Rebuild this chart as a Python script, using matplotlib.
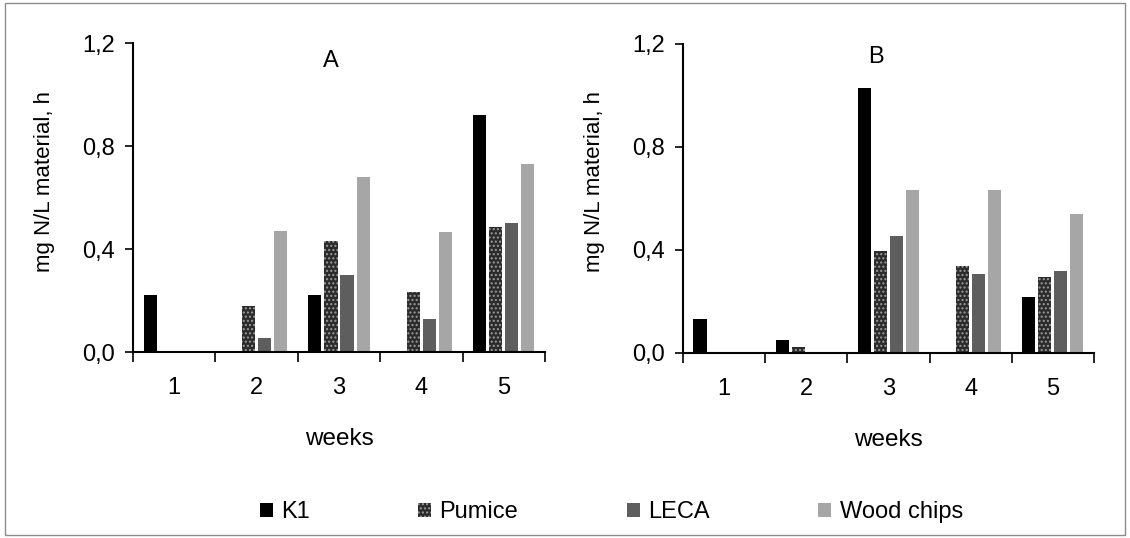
import numpy as np
import matplotlib.pyplot as plt
from matplotlib.patches import Patch, Rectangle

plt.rcParams['font.family'] = ['Liberation Sans', 'DejaVu Sans']

weeks = ['1', '2', '3', '4', '5']
materials = ['K1', 'Pumice', 'LECA', 'Wood chips']

# panel A
a_k1 = [0.22, 0.0, 0.22, 0.0, 0.92]
a_pumice = [0.0, 0.18, 0.43, 0.235, 0.485]
a_leca = [0.0, 0.055, 0.30, 0.13, 0.50]
a_wood = [0.0, 0.47, 0.68, 0.465, 0.73]

# panel B
b_k1 = [0.13, 0.048, 1.03, 0.0, 0.217]
b_pumice = [0.0, 0.021, 0.395, 0.335, 0.295]
b_leca = [0.0, 0.0, 0.452, 0.304, 0.316]
b_wood = [0.0, 0.0, 0.631, 0.631, 0.54]

face = ['#000000', '#2b2b2b', '#5e5e5e', '#a6a6a6']
hatch = [None, '....', None, None]

fig = plt.figure(figsize=(11.3, 5.38), dpi=100)
fig.patches.append(Rectangle((0.004, 0.006), 0.992, 0.988, transform=fig.transFigure,
                             fill=False, edgecolor='#8c8c8c', linewidth=1))

def draw_panel(rect, series, title, title_x, title_y):
    ax = fig.add_axes(rect)
    x = np.arange(len(weeks))
    stride, width = 0.195, 0.16
    for i, vals in enumerate(series):
        off = (i - 1.5) * stride
        ax.bar(x + off, vals, width, color=face[i], hatch=hatch[i],
               edgecolor='#9a9a9a' if hatch[i] else face[i], linewidth=0)
    ax.set_xlim(-0.5, len(weeks) - 0.5)
    ax.set_ylim(0, 1.2)
    ax.set_yticks([0, 0.4, 0.8, 1.2])
    ax.set_yticklabels(['0,0', '0,4', '0,8', '1,2'], fontsize=17)
    ax.set_xticks(x)
    ax.set_xticklabels(weeks, fontsize=17)
    ax.set_xticks(np.arange(-0.5, len(weeks)), minor=True)
    ax.tick_params(axis='x', which='major', length=0, pad=18)
    ax.tick_params(axis='x', which='minor', length=7, width=1.2, direction='out')
    ax.tick_params(axis='y', length=6, width=1.2, direction='out', pad=7)
    for s in ['top', 'right']:
        ax.spines[s].set_visible(False)
    for s in ['left', 'bottom']:
        ax.spines[s].set_linewidth(1.5)
    ax.set_ylabel('mg N/L material, h', fontsize=16)
    ax.yaxis.set_label_coords(-0.19, 0.553)
    ax.set_xlabel('weeks', fontsize=17.5, labelpad=21)
    ax.text(title_x, title_y, title, fontsize=17, ha='center', va='center')
    return ax

draw_panel([0.1177, 0.3457, 0.3646, 0.5743], [a_k1, a_pumice, a_leca, a_wood], 'A', 1.9, 1.13)
draw_panel([0.6044, 0.3444, 0.3637, 0.5743], [b_k1, b_pumice, b_leca, b_wood], 'B', 1.85, 1.15)

handles = [Patch(facecolor=face[i], hatch=hatch[i],
                 edgecolor='#9a9a9a' if hatch[i] else face[i], linewidth=0, label=m)
           for i, m in enumerate(materials)]
fig.legend(handles=handles, loc='center', bbox_to_anchor=(0.541, 0.048), ncol=4,
           frameon=False, fontsize=17, handlelength=0.55, handleheight=0.55,
           handletextpad=0.35, columnspacing=4.6)

fig.savefig('out.png', dpi=100)
